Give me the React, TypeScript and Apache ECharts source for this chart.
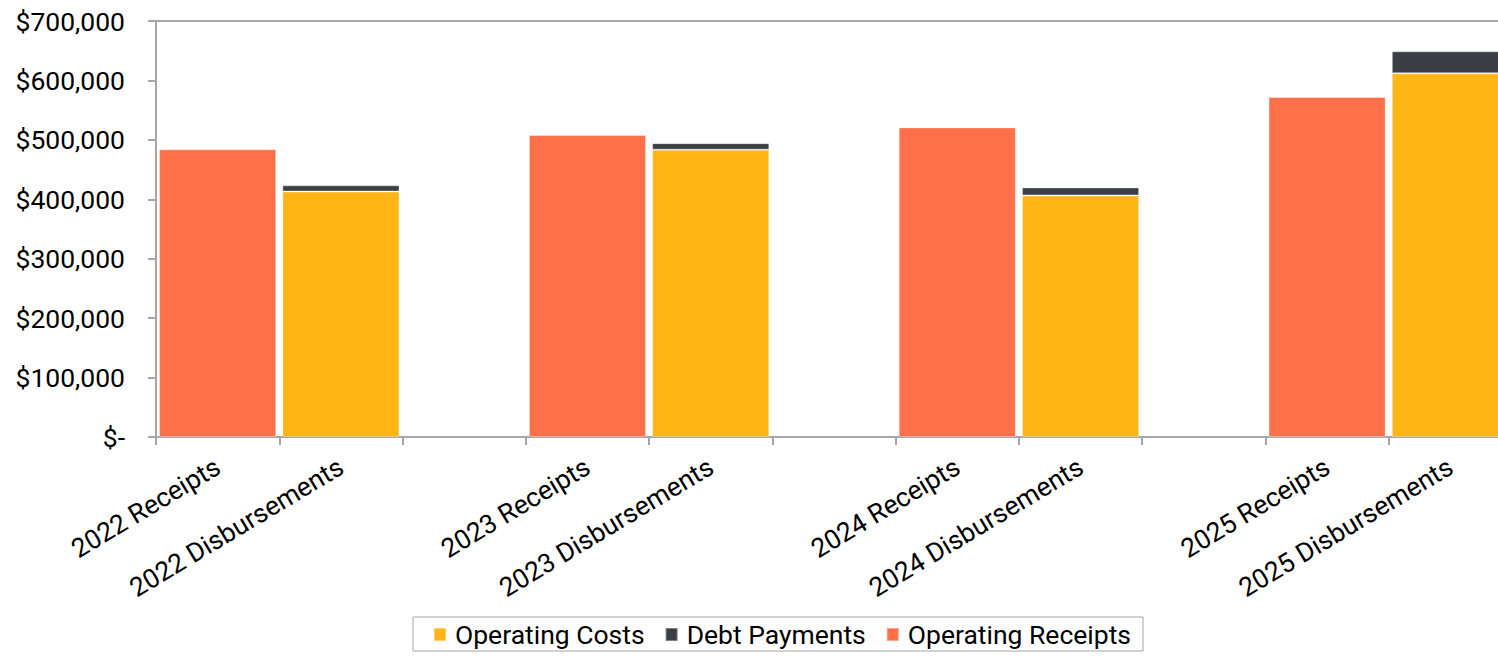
import React, { useEffect, useRef } from "react";
import * as echarts from "echarts";

const categories = [
  "2022 Receipts",
  "2022 Disbursements",
  " ",
  "2023 Receipts",
  "2023 Disbursements",
  "  ",
  "2024 Receipts",
  "2024 Disbursements",
  "   ",
  "2025 Receipts",
  "2025 Disbursements",
];

const operatingCosts = [null, 413000, null, null, 483500, null, null, 406500, null, null, 612000];
const debtPayments = [null, 10500, null, null, 11000, null, null, 13500, null, null, 37000];
const operatingReceipts = [484000, null, null, 508000, null, null, 521000, null, null, 572000, null];

const yTicks = { min: 0, max: 700000, interval: 100000 };

const FONT = "Roboto";
const FS = 26.5;

export default function App() {
  const ref = useRef<HTMLDivElement>(null);
  useEffect(() => {
    if (!ref.current) return;
    const chart = echarts.init(ref.current, undefined, { renderer: "svg" });
    const axisColor = "#a6a6a6";
    const barCommon = {
      type: "bar" as const,
      stack: "total",
      barWidth: "95%",
      itemStyle: { borderColor: "rgba(255,255,255,0.35)", borderWidth: 1 },
    };
    chart.setOption({
      animation: false,
      textStyle: { fontFamily: FONT },
      grid: { left: 156, right: 0, top: 21, bottom: 220, containLabel: false },
      legend: {
        data: ["Operating Costs", "Debt Payments", "Operating Receipts"],
        left: 413,
        top: 617,
        orient: "horizontal",
        icon: "rect",
        itemWidth: 12,
        itemHeight: 13,
        itemGap: 20,
        padding: [4, 12, 3, 20],
        borderColor: "#a6a6a6",
        borderWidth: 1,
        textStyle: { fontFamily: FONT, fontSize: FS, color: "#000", padding: [0, 0, 0, 4] },
      },
      xAxis: [
        {
          type: "category",
          data: categories,
          axisLine: { show: true, lineStyle: { color: axisColor, width: 2 } },
          axisTick: { show: true, alignWithLabel: false, length: 8, lineStyle: { color: axisColor, width: 2 } },
          axisLabel: {
            interval: 0,
            rotate: 31,
            margin: 27,
            fontFamily: FONT,
            fontSize: FS,
            color: "#000",
          },
        },
        {
          type: "category",
          data: categories,
          position: "top",
          axisLine: { show: true, lineStyle: { color: axisColor, width: 2 } },
          axisTick: { show: false },
          axisLabel: { show: false },
        },
      ],
      yAxis: {
        type: "value",
        min: yTicks.min,
        max: yTicks.max,
        interval: yTicks.interval,
        axisLine: { show: true, lineStyle: { color: axisColor, width: 2 } },
        axisTick: { show: true, length: 8, lineStyle: { color: axisColor, width: 2 } },
        splitLine: { show: false },
        axisLabel: {
          margin: 31,
          fontFamily: FONT,
          fontSize: FS,
          color: "#000",
          formatter: (v: number) => (v === 0 ? "$-" : "$" + v.toLocaleString("en-US")),
        },
      },
      series: [
        { ...barCommon, name: "Operating Costs", data: operatingCosts, itemStyle: { ...barCommon.itemStyle, color: "#FEB515" } },
        { ...barCommon, name: "Debt Payments", data: debtPayments, itemStyle: { ...barCommon.itemStyle, color: "#3B3F43" } },
        { ...barCommon, name: "Operating Receipts", data: operatingReceipts, itemStyle: { ...barCommon.itemStyle, color: "#FF6F49" } },
      ],
    });
    return () => chart.dispose();
  }, []);
  return (
    <div
      style={{ position: "fixed", left: 0, top: 0, width: 1498, height: 657, overflow: "hidden", background: "#fff" }}
    >
      <div ref={ref} style={{ width: 1512, height: 657 }} />
    </div>
  );
}
